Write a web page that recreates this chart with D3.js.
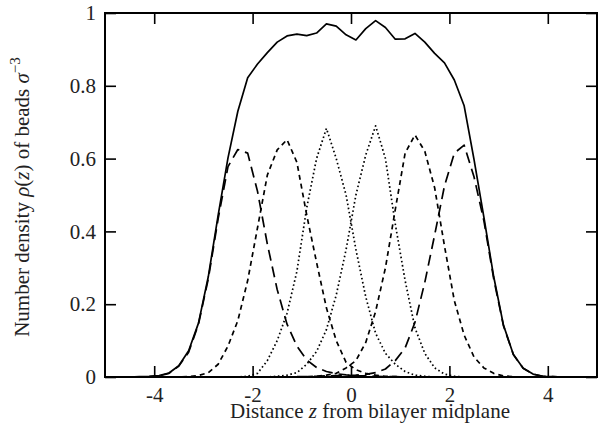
<!DOCTYPE html>
<html>
<head>
  <style>
  body {
    margin: 0;
    background: #fff;
  }
  svg text {
    font-family: "Liberation Serif", "DejaVu Serif", serif;
    fill: #222;
  }
  </style>
</head>
<body>
  <div id="chart"></div>
  <script src="https://d3js.org/d3.v7.min.js"></script>
  <script>
  // distance from midplane (bin centres)
  var z = [-4.9, -4.7, -4.5, -4.3, -4.1, -3.9, -3.7, -3.5, -3.3, -3.1,
           -2.9, -2.7, -2.5, -2.3, -2.1, -1.9, -1.7, -1.5, -1.3, -1.1,
           -0.9, -0.7, -0.5, -0.3, -0.1, 0.1, 0.3, 0.5, 0.7, 0.9,
           1.1, 1.3, 1.5, 1.7, 1.9, 2.1, 2.3, 2.5, 2.7, 2.9,
           3.1, 3.3, 3.5, 3.7, 3.9, 4.1, 4.3, 4.5, 4.7, 4.9];

  var total = [0, 0, 0, 0.001, 0.002, 0.004, 0.011, 0.031, 0.072, 0.148,
               0.276, 0.445, 0.602, 0.73, 0.822, 0.860, 0.891, 0.920, 0.937, 0.942,
               0.938, 0.945, 0.970, 0.964, 0.940, 0.926, 0.957, 0.979, 0.960, 0.928,
               0.929, 0.944, 0.920, 0.889, 0.863, 0.816, 0.745, 0.598, 0.44, 0.276,
               0.142, 0.062, 0.024, 0.008, 0.002, 0.001, 0, 0, 0, 0];

  var outerLeft = [0, 0, 0, 0, 0.001, 0.003, 0.01, 0.03, 0.068, 0.145,
                   0.27, 0.435, 0.578, 0.625, 0.615, 0.51, 0.365, 0.24, 0.145, 0.085,
                   0.047, 0.026, 0.015, 0.009, 0.006, 0.004, 0.003, 0.002, 0.001, 0.001,
                   0, 0, 0, 0, 0, 0, 0, 0, 0, 0,
                   0, 0, 0, 0, 0, 0, 0, 0, 0, 0];

  var outerRight = [0, 0, 0, 0, 0, 0, 0, 0, 0, 0,
                    0, 0, 0, 0, 0, 0, 0, 0, 0, 0.001,
                    0.001, 0.002, 0.003, 0.004, 0.004, 0.005, 0.007, 0.012, 0.022, 0.045,
                    0.08, 0.15, 0.26, 0.39, 0.525, 0.615, 0.637, 0.55, 0.43, 0.27,
                    0.14, 0.062, 0.024, 0.008, 0.002, 0.001, 0, 0, 0, 0];

  var midLeft = [0, 0, 0, 0, 0, 0, 0, 0, 0.001, 0.004,
                 0.012, 0.035, 0.085, 0.155, 0.265, 0.41, 0.555, 0.624, 0.652, 0.59,
                 0.445, 0.315, 0.19, 0.1, 0.04, 0.02, 0.01, 0.005, 0.002, 0.001,
                 0, 0, 0, 0, 0, 0, 0, 0, 0, 0,
                 0, 0, 0, 0, 0, 0, 0, 0, 0, 0];

  var midRight = [0, 0, 0, 0, 0, 0, 0, 0, 0, 0,
                  0, 0, 0, 0, 0, 0, 0, 0, 0, 0,
                  0.001, 0.002, 0.005, 0.01, 0.025, 0.045, 0.095, 0.18, 0.30, 0.46,
                  0.615, 0.665, 0.62, 0.52, 0.36, 0.21, 0.115, 0.055, 0.025, 0.01,
                  0.003, 0.001, 0, 0, 0, 0, 0, 0, 0, 0];

  var innerLeft = [0, 0, 0, 0, 0, 0, 0, 0, 0, 0,
                   0, 0, 0, 0, 0.002, 0.01, 0.045, 0.10, 0.175, 0.29,
                   0.465, 0.60, 0.683, 0.60, 0.50, 0.35, 0.22, 0.12, 0.065, 0.035,
                   0.015, 0.005, 0.002, 0, 0, 0, 0, 0, 0, 0,
                   0, 0, 0, 0, 0, 0, 0, 0, 0, 0];

  var innerRight = [0, 0, 0, 0, 0, 0, 0, 0, 0, 0,
                    0, 0, 0, 0, 0, 0, 0, 0.002, 0.005, 0.012,
                    0.035, 0.07, 0.13, 0.225, 0.35, 0.50, 0.61, 0.69, 0.60, 0.42,
                    0.265, 0.135, 0.065, 0.025, 0.008, 0.002, 0, 0, 0, 0,
                    0, 0, 0, 0, 0, 0, 0, 0, 0, 0];

  var xTicks = [-4, -2, 0, 2, 4];
  var yTicks = [0, 0.2, 0.4, 0.6, 0.8, 1];

  var series = [
    {values: total, dash: null},
    {values: outerLeft, dash: "11,6"},
    {values: outerRight, dash: "11,6"},
    {values: midLeft, dash: "5,4"},
    {values: midRight, dash: "5,4"},
    {values: innerLeft, dash: "1.6,2.6"},
    {values: innerRight, dash: "1.6,2.6"}
  ];

  var W = 600, H = 424;
  var margin = {top: 13, right: 3, bottom: 47, left: 105};
  var fs = 21;

  var svg = d3.select("#chart").append("svg")
      .attr("width", W)
      .attr("height", H);

  var x = d3.scaleLinear()
    .domain([-5, 5])
    .range([margin.left, W - margin.right]);

  var y = d3.scaleLinear()
    .domain([0, 1])
    .range([H - margin.bottom, margin.top]);

  var line = d3.line()
    .x(function(d, i){ return x(z[i]); })
    .y(function(d){ return y(d); });

  svg.append("defs").append("clipPath")
      .attr("id", "clip")
    .append("rect")
      .attr("x", x(-5))
      .attr("y", y(1))
      .attr("width", x(5) - x(-5))
      .attr("height", y(0) - y(1));

  svg.append("g")
      .attr("clip-path", "url(#clip)")
    .selectAll("path")
      .data(series)
    .enter().append("path")
      .attr("d", function(d){ return line(d.values); })
      .attr("fill", "none")
      .attr("stroke", "#000")
      .attr("stroke-width", 1.7)
      .attr("stroke-linejoin", "round")
      .attr("stroke-dasharray", function(d){ return d.dash; });

  // inward ticks on all four sides
  var tickLen = 11;
  var fmtX = function(d){ return d < 0 ? "-" + Math.abs(d) : String(d); };

  svg.append("g")
      .attr("transform", "translate(0," + y(0) + ")")
      .call(d3.axisBottom(x).tickValues(xTicks).tickSizeInner(-tickLen).tickSizeOuter(0).tickPadding(10).tickFormat(fmtX));

  svg.append("g")
      .attr("transform", "translate(0," + y(1) + ")")
      .call(d3.axisTop(x).tickValues(xTicks).tickSizeInner(-tickLen).tickSizeOuter(0).tickFormat(""));

  svg.append("g")
      .attr("transform", "translate(" + x(-5) + ",0)")
      .call(d3.axisLeft(y).tickValues(yTicks).tickSizeInner(-tickLen).tickSizeOuter(0).tickPadding(9).tickFormat(d3.format("")));

  svg.append("g")
      .attr("transform", "translate(" + x(5) + ",0)")
      .call(d3.axisRight(y).tickValues(yTicks).tickSizeInner(-tickLen).tickSizeOuter(0).tickFormat(""));

  svg.selectAll(".domain").remove();
  svg.selectAll(".tick line").attr("stroke", "#000").attr("stroke-width", 1.6);
  svg.selectAll(".tick text")
      .attr("font-size", fs)
      .attr("fill", "#222");

  // frame
  svg.append("rect")
      .attr("x", x(-5))
      .attr("y", y(1))
      .attr("width", x(5) - x(-5))
      .attr("height", y(0) - y(1))
      .attr("fill", "none")
      .attr("stroke", "#000")
      .attr("stroke-width", 2);

  // axis titles
  var xt = svg.append("text")
      .attr("x", 370)
      .attr("y", 418)
      .attr("text-anchor", "middle")
      .attr("font-size", fs);
  xt.append("tspan").text("Distance ");
  xt.append("tspan").attr("font-style", "italic").text("z");
  xt.append("tspan").text(" from bilayer midplane");

  var yt = svg.append("text")
      .attr("transform", "translate(29," + ((y(0) + y(1)) / 2 + 2) + ") rotate(-90)")
      .attr("text-anchor", "middle")
      .attr("font-size", fs);
  yt.append("tspan").text("Number density ");
  yt.append("tspan").attr("font-style", "italic").text("ρ");
  yt.append("tspan").text("(");
  yt.append("tspan").attr("font-style", "italic").text("z");
  yt.append("tspan").text(")  of beads ");
  yt.append("tspan").attr("font-style", "italic").text("σ");
  yt.append("tspan").attr("font-size", 15).attr("dy", -9).text("−3");
  </script>
</body>
</html>
